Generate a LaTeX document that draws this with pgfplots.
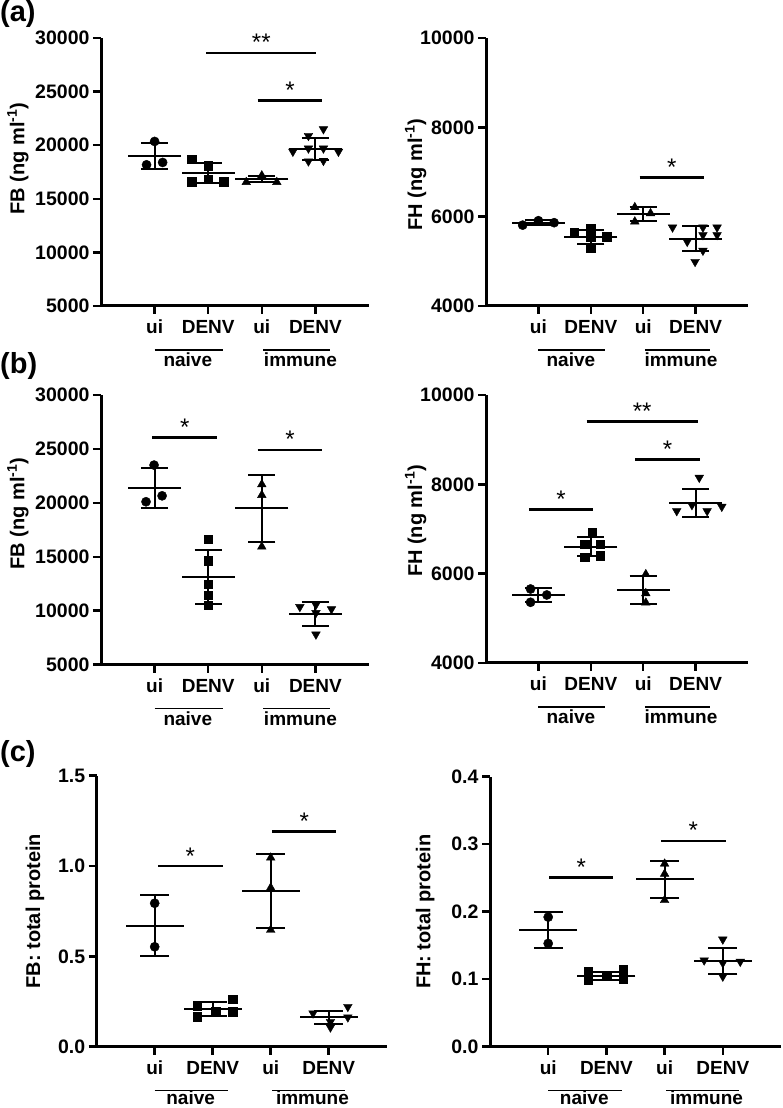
\documentclass[border=0pt]{standalone}
\usepackage{fontspec}
\setmainfont{Liberation Sans}
\usepackage{pgfplots}
\pgfplotsset{compat=1.18}

\pgfplotsset{
  panel/.style={
    scale only axis,
    anchor=south west,
    axis lines*=left,
    axis line style={line width=3pt},
    tick align=outside,
    major tick length=8pt,
    tick style={line width=2.5pt, black},
    xmin=0, xmax=5,
    xtick={1,2,3,4},
    xticklabels={ui,DENV,ui,DENV},
    clip=false,
    scaled y ticks=false,
    /pgf/number format/assume math mode=true,
    /pgf/number format/1000 sep={},
    ticklabel style={font=\fontsize{19}{19}\selectfont\bfseries},
    yticklabel style={font=\fontsize{19.5}{19.5}\selectfont\bfseries},
    xticklabel style={text height=14pt, text depth=0pt, yshift=-2pt},
    label style={font=\fontsize{20}{20}\selectfont\bfseries},
    ylabel style={anchor=center},
  },
  pts/.style={only marks, black, mark options={fill=black, line width=0.4pt}},
  circ/.style={pts, mark=*, mark size=4.6pt},
  sq/.style={pts, mark=square*, mark size=4.3pt},
  tup/.style={pts, mark=triangle*, mark size=5pt},
  tdn/.style={pts, mark=triangle*, mark size=5pt, mark options={rotate=180, fill=black, line width=0.4pt}},
  msd/.style 2 args={only marks, black, mark=-, mark size=#1, mark options={line width=2pt},
    error bars/y dir=both, error bars/y explicit,
    error bars/error bar style={line width=2pt},
    error bars/error mark options={rotate=90, mark size=#2, line width=2pt}},
}

\newcommand{\sig}[4]{%
  \draw[line width=2.5pt] (axis cs:#1,#3) -- node[anchor=base, yshift=2pt, inner sep=0pt, font=\fontsize{24}{24}\selectfont] {#4} (axis cs:#2,#3);}
\newcommand{\groups}[2]{%
  \draw[line width=1.6pt] ([yshift=-44pt]axis cs:1.0,#1) -- ([yshift=-44pt]axis cs:2.27,#1);
  \draw[line width=1.6pt] ([yshift=-44pt]axis cs:3.03,#1) -- ([yshift=-44pt]axis cs:4.28,#1);
  \node[anchor=base, inner sep=0pt, font=\fontsize{19}{19}\selectfont\bfseries] at ([yshift=-#2]axis cs:1.62,#1) {naive};
  \node[anchor=base, inner sep=0pt, font=\fontsize{19}{19}\selectfont\bfseries] at ([yshift=-#2]axis cs:3.72,#1) {immune};}

\begin{document}
\begin{tikzpicture}
\path[use as bounding box] (0pt,0pt) rectangle (782pt,1108pt);

\node[anchor=base west, inner sep=0pt, font=\fontsize{29}{29}\selectfont\bfseries] at (0pt,1086pt) {(a)};
\node[anchor=base west, inner sep=0pt, font=\fontsize{29}{29}\selectfont\bfseries] at (0pt,734pt) {(b)};
\node[anchor=base west, inner sep=0pt, font=\fontsize{29}{29}\selectfont\bfseries] at (0pt,346pt) {(c)};

% ---------- (a) left: FB ----------
\begin{axis}[panel, at={(101pt,802pt)}, width=268pt, height=268pt,
  ymin=5000, ymax=30000, ytick={5000,10000,15000,20000,25000,30000},
  ylabel={FB (ng ml\textsuperscript{-1})},
  ylabel style={at={(axis description cs:-0.31,0.55)}}]
\addplot[circ] coordinates {(0.85,18170) (1.0,20350) (1.15,18390)};
\addplot[sq] coordinates {(1.69,18700) (2.0,18110) (1.69,16610) (2.0,16830) (2.29,16610)};
\addplot[tup] coordinates {(2.71,16550) (3.0,17170) (3.28,16550)};
\addplot[tdn] coordinates {(4.15,21500) (3.87,20880) (3.58,19400) (3.87,19700) (4.15,19700) (4.43,19400) (3.87,18500) (4.15,18550)};
\addplot[msd={26.5pt}{13.5pt}] coordinates {(1,19000) +- (0,1200)};
\addplot[msd={26.5pt}{13.5pt}] coordinates {(2,17390) +- (0,935)};
\addplot[msd={26.5pt}{13.5pt}] coordinates {(3,16860) +- (0,280)};
\addplot[msd={26.5pt}{13.5pt}] coordinates {(4,19630) +- (0,1010)};
\sig{1.96}{4.02}{28600}{**}
\sig{2.92}{4.13}{24150}{*}
\groups{5000}{61pt}
\end{axis}

% ---------- (a) right: FH ----------
\begin{axis}[panel, at={(486pt,802pt)}, width=262pt, height=268pt,
  ymin=4000, ymax=10000, ytick={4000,6000,8000,10000},
  ylabel={FH (ng ml\textsuperscript{-1})},
  ylabel style={at={(axis description cs:-0.268,0.49)}}]
\addplot[circ] coordinates {(0.70,5810) (1.0,5910) (1.30,5865)};
\addplot[sq] coordinates {(1.68,5650) (2.0,5730) (2.0,5540) (2.0,5290) (2.30,5550)};
\addplot[tup] coordinates {(2.84,6210) (3.14,6075) (2.84,5890)};
\addplot[tdn] coordinates {(3.56,5760) (3.84,5440) (3.99,4990) (4.14,5760) (4.14,5590) (4.14,5240) (4.41,5760) (4.41,5590)};
\addplot[msd={26.5pt}{13.5pt}] coordinates {(1,5864) +- (0,50)};
\addplot[msd={26.5pt}{13.5pt}] coordinates {(2,5544) +- (0,165)};
\addplot[msd={26.5pt}{13.5pt}] coordinates {(3,6066) +- (0,155)};
\addplot[msd={26.5pt}{13.5pt}] coordinates {(4,5500) +- (0,280)};
\sig{2.93}{4.16}{6878}{*}
\groups{4000}{61pt}
\end{axis}

% ---------- (b) left: FB ----------
\begin{axis}[panel, at={(101pt,443.4pt)}, width=268pt, height=269.6pt,
  ymin=5000, ymax=30000, ytick={5000,10000,15000,20000,25000,30000},
  ylabel={FB (ng ml\textsuperscript{-1})},
  ylabel style={at={(axis description cs:-0.31,0.56)}}]
\addplot[circ] coordinates {(0.99,23500) (0.84,20100) (1.14,20650)};
\addplot[sq] coordinates {(2.0,16610) (2.0,14620) (2.0,12470) (2.0,11450) (2.0,10520)};
\addplot[tup] coordinates {(3.0,21710) (3.0,20720) (3.0,15930)};
\addplot[tdn] coordinates {(3.71,10350) (4.01,10550) (4.30,10150) (4.01,9800) (4.01,7800)};
\addplot[msd={26.5pt}{13.5pt}] coordinates {(1,21400) +- (0,1855)};
\addplot[msd={26.5pt}{13.5pt}] coordinates {(2,13150) +- (0,2505)};
\addplot[msd={26.5pt}{13.5pt}] coordinates {(3,19490) +- (0,3125)};
\addplot[msd={26.5pt}{13.5pt}] coordinates {(4,9680) +- (0,1135)};
\sig{0.96}{2.17}{26080}{*}
\sig{2.92}{4.13}{24900}{*}
\groups{5000}{61pt}
\end{axis}

% ---------- (b) right: FH ----------
\begin{axis}[panel, at={(486pt,445pt)}, width=262pt, height=268pt,
  ymin=4000, ymax=10000, ytick={4000,6000,8000,10000},
  ylabel={FH (ng ml\textsuperscript{-1})},
  ylabel style={at={(axis description cs:-0.268,0.53)}}]
\addplot[circ] coordinates {(0.85,5657) (0.85,5359) (1.16,5523)};
\addplot[sq] coordinates {(2.03,6926) (1.88,6664) (2.18,6664) (1.88,6367) (2.18,6396)};
\addplot[tup] coordinates {(3.05,5986) (3.05,5560) (3.05,5350)};
\addplot[tdn] coordinates {(4.07,8149) (3.64,7403) (3.93,7537) (4.22,7403) (4.50,7500)};
\addplot[msd={26.5pt}{13.5pt}] coordinates {(1,5523) +- (0,165)};
\addplot[msd={26.5pt}{13.5pt}] coordinates {(2,6604) +- (0,215)};
\addplot[msd={26.5pt}{13.5pt}] coordinates {(3,5635) +- (0,320)};
\addplot[msd={26.5pt}{13.5pt}] coordinates {(4,7589) +- (0,317)};
\sig{1.92}{4.04}{9403}{**}
\sig{2.85}{4.08}{8560}{*}
\sig{0.82}{2.04}{7441}{*}
\groups{4000}{61pt}
\end{axis}

% ---------- (c) left: FB total protein ----------
\begin{axis}[panel, at={(96.7pt,61.3pt)}, width=290pt, height=271pt,
  ymin=0, ymax=1.5, ytick={0,0.5,1.0,1.5},
  yticklabel style={/pgf/number format/fixed, /pgf/number format/fixed zerofill, /pgf/number format/precision=1},
  ylabel={FB: total protein},
  ylabel style={at={(axis description cs:-0.213,0.50)}}]
\addplot[circ] coordinates {(1.0,0.794) (1.0,0.553)};
\addplot[sq] coordinates {(1.73,0.227) (1.73,0.166) (2.05,0.194) (2.34,0.264) (2.34,0.194)};
\addplot[tup] coordinates {(3.0,1.046) (3.0,0.880) (3.0,0.646)};
\addplot[tdn] coordinates {(3.73,0.185) (4.03,0.138) (4.03,0.107) (4.33,0.221) (4.33,0.163)};
\addplot[msd={29pt}{14.5pt}] coordinates {(1,0.670) +- (0,0.168)};
\addplot[msd={29pt}{14.5pt}] coordinates {(2,0.209) +- (0,0.040)};
\addplot[msd={29pt}{14.5pt}] coordinates {(3,0.862) +- (0,0.205)};
\addplot[msd={29pt}{14.5pt}] coordinates {(4,0.163) +- (0,0.035)};
\sig{1.06}{2.17}{1.0}{*}
\sig{3.03}{4.13}{1.19}{*}
\groups{0}{58pt}
\end{axis}

% ---------- (c) right: FH total protein ----------
\begin{axis}[panel, at={(490pt,61.3pt)}, width=291pt, height=270pt,
  ymin=0, ymax=0.4, ytick={0,0.1,0.2,0.3,0.4},
  yticklabel style={/pgf/number format/fixed, /pgf/number format/fixed zerofill, /pgf/number format/precision=1},
  ylabel={FH: total protein},
  ylabel style={at={(axis description cs:-0.223,0.50)}}]
\addplot[circ] coordinates {(1.0,0.192) (1.0,0.153)};
\addplot[sq] coordinates {(1.69,0.111) (1.69,0.099) (2.0,0.105) (2.29,0.114) (2.29,0.100)};
\addplot[tup] coordinates {(3.0,0.271) (3.0,0.256) (3.0,0.217)};
\addplot[tdn] coordinates {(4.0,0.159) (3.68,0.128) (4.0,0.124) (4.3,0.126) (4.0,0.104)};
\addplot[msd={29pt}{14.5pt}] coordinates {(1,0.173) +- (0,0.027)};
\addplot[msd={29pt}{14.5pt}] coordinates {(2,0.105) +- (0,0.006)};
\addplot[msd={29pt}{14.5pt}] coordinates {(3,0.248) +- (0,0.0275)};
\addplot[msd={29pt}{14.5pt}] coordinates {(4,0.1274) +- (0,0.0195)};
\sig{1.02}{2.12}{0.2504}{*}
\sig{2.94}{4.05}{0.305}{*}
\groups{0}{58pt}
\end{axis}
\end{tikzpicture}
\end{document}
